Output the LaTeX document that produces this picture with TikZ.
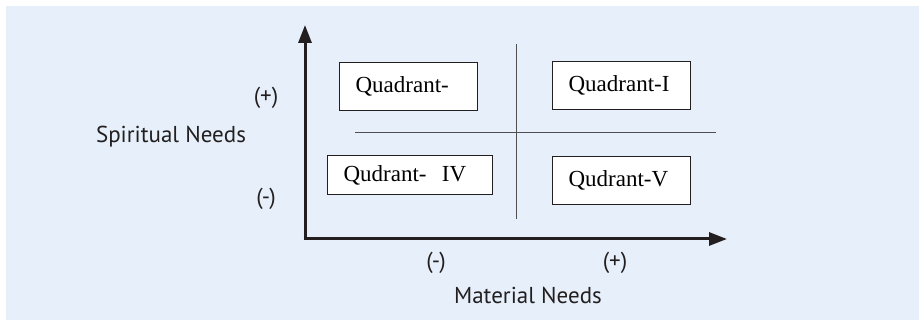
\documentclass[tikz,border=0pt]{standalone}
\usepackage{fontspec}
\setmainfont{Liberation Serif}
\newfontfamily\labelfont{PT Sans}
\usetikzlibrary{arrows.meta}
\definecolor{panel}{RGB}{231,240,250}
\definecolor{ink}{RGB}{35,31,32}
\definecolor{rule}{RGB}{80,80,80}
\tikzset{
  axisline/.style={draw=ink, line width=3pt, -{Triangle[length=18pt,width=13pt]}},
  divider/.style={draw=rule, line width=1pt},
  quadbox/.style={draw=ink, line width=1.2pt, fill=white, align=left,
    inner xsep=16pt, inner ysep=0pt, font=\fontsize{23}{25}\selectfont,
    anchor=north west},
  axlabel/.style={font=\labelfont\fontsize{23}{25}\selectfont, text=ink, inner sep=0pt}
}
\begin{document}
\begin{tikzpicture}[x=1pt, y=-1pt]
  \useasboundingbox (0,0) rectangle (919,320);
  \fill[white] (0,0) rectangle (919,320);
  \fill[panel] (6,6) rectangle (919,320);

  % quadrant dividers
  \coordinate (vtop) at (516,44);
  \coordinate (vbot) at (516,219);
  \coordinate (hleft) at (355,133);
  \coordinate (hright) at (716,133);
  \draw[divider] (vtop) -- (vbot);
  \draw[divider] (hleft) -- (hright);

  % axes
  \coordinate (origin) at (305,239);
  \coordinate (ytip) at (305,25);
  \coordinate (xtip) at (727,239);
  \draw[axisline] ([yshift=1.5pt]origin) -- (ytip);
  \draw[axisline] ([xshift=-1.5pt]origin) -- (xtip);

  % quadrant boxes
  \node[quadbox, text width=106pt, minimum height=48pt] (q2) at (339,62) {Quadrant-};
  \node[quadbox, text width=106pt, minimum height=48pt] (q1) at (552,61) {Quadrant-I};
  \node[quadbox, text width=133pt, minimum height=39pt] (q4) at (327,155) {Qudrant-\ \ IV};
  \node[quadbox, text width=106pt, minimum height=48pt] (q5) at (552,156) {Qudrant-V};

  % axis labels
  \node[axlabel] (yplus) at (266,98) {(+)};
  \node[axlabel] (yminus) at (266,199) {(-)};
  \node[axlabel] (ytitle) at (171,137) {Spiritual Needs};
  \node[axlabel] (xminus) at (436,263) {(-)};
  \node[axlabel] (xplus) at (615,263) {(+)};
  \node[axlabel] (xtitle) at (528,295) {Material Needs};
\end{tikzpicture}
\end{document}
